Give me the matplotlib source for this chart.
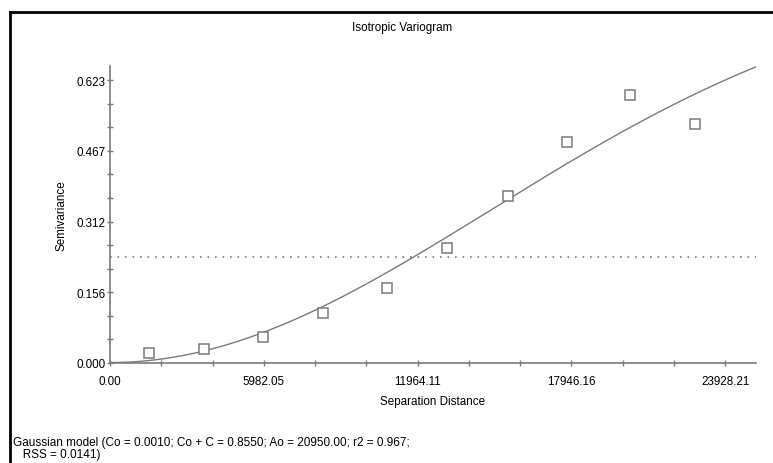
import numpy as np
import matplotlib.pyplot as plt
from matplotlib.lines import Line2D

plt.rcParams['font.family'] = ['Liberation Sans', 'DejaVu Sans']

# experimental semivariogram points
lag_dist = [1515, 3651, 5943, 8274, 10760, 13091, 15460, 17791, 20238, 22763]
semivar = [0.022, 0.031, 0.057, 0.110, 0.165, 0.253, 0.368, 0.487, 0.590, 0.526]

# fitted gaussian model parameters (from the caption)
Co = 0.0010
CoC = 0.8550
Ao = 20950.00
sill_line = 0.2334

x_ticks = [0.00, 5982.05, 11964.11, 17946.16, 23928.21]
x_labels = ['0.00', '5982.05', '11964.11', '17946.16', '23928.21']
y_ticks = [0.0, 0.15575, 0.3115, 0.46725, 0.623]
y_labels = ['0.000', '0.156', '0.312', '0.467', '0.623']

fig = plt.figure(figsize=(7.73, 4.64), dpi=100)
ax = fig.add_axes([110/773, 100/464, 646/773, 297/464])

xmax = x_ticks[-1]*1.05
ymax = y_ticks[-1]*1.05
h = np.linspace(0, xmax, 300)
gam = Co + (CoC-Co)*(1-np.exp(-(h/Ao)**2))

gray = '#7a7a7a'
fs = 8.4
ax.plot(h, gam, color=gray, lw=1.0)
ax.plot([0, xmax], [sill_line, sill_line], color=gray, lw=1.2, ls=(0, (1, 3.5)))
ax.plot(lag_dist, semivar, 's', ms=7.5, mfc='white', mec=gray, mew=1.1)

ax.set_xlim(0, xmax)
ax.set_ylim(0, ymax)
ax.set_xticks(x_ticks)
ax.set_xticklabels(x_labels)
ax.set_yticks(y_ticks)
ax.set_yticklabels(y_labels)
ax.set_xticks(np.arange(0, xmax, x_ticks[1]/3), minor=True)
ax.set_yticks(np.arange(0, ymax, y_ticks[1]/3), minor=True)
ax.tick_params(which='both', direction='inout', length=5, width=1, color=gray, labelsize=fs)
ax.tick_params(axis='x', pad=6)
ax.tick_params(axis='y', pad=1)
for s in ['top', 'right']:
    ax.spines[s].set_visible(False)
for s in ['left', 'bottom']:
    ax.spines[s].set_color(gray)
    ax.spines[s].set_linewidth(1.2)

ax.set_xlabel('Separation Distance', fontsize=fs, labelpad=6)
ax.set_ylabel('Semivariance', fontsize=fs, labelpad=6)
fig.text(402/773, 1-28/464, 'Isotropic Variogram', fontsize=fs, ha='center', va='center')

fig.text(13/773, 1-443/464, 'Gaussian model (Co = 0.0010; Co + C = 0.8550; Ao = 20950.00; r2 = 0.967;',
         fontsize=8.5, ha='left', va='center')
fig.text(13/773, 1-455/464, '   RSS = 0.0141)', fontsize=8.5, ha='left', va='center')

# frame lines on the left and top
fig.add_artist(Line2D([10/773, 10/773], [0, 1-13/464], color='black', lw=2))
fig.add_artist(Line2D([10/773, 1], [1-13/464, 1-13/464], color='black', lw=2))

fig.savefig('out.png', dpi=100)
